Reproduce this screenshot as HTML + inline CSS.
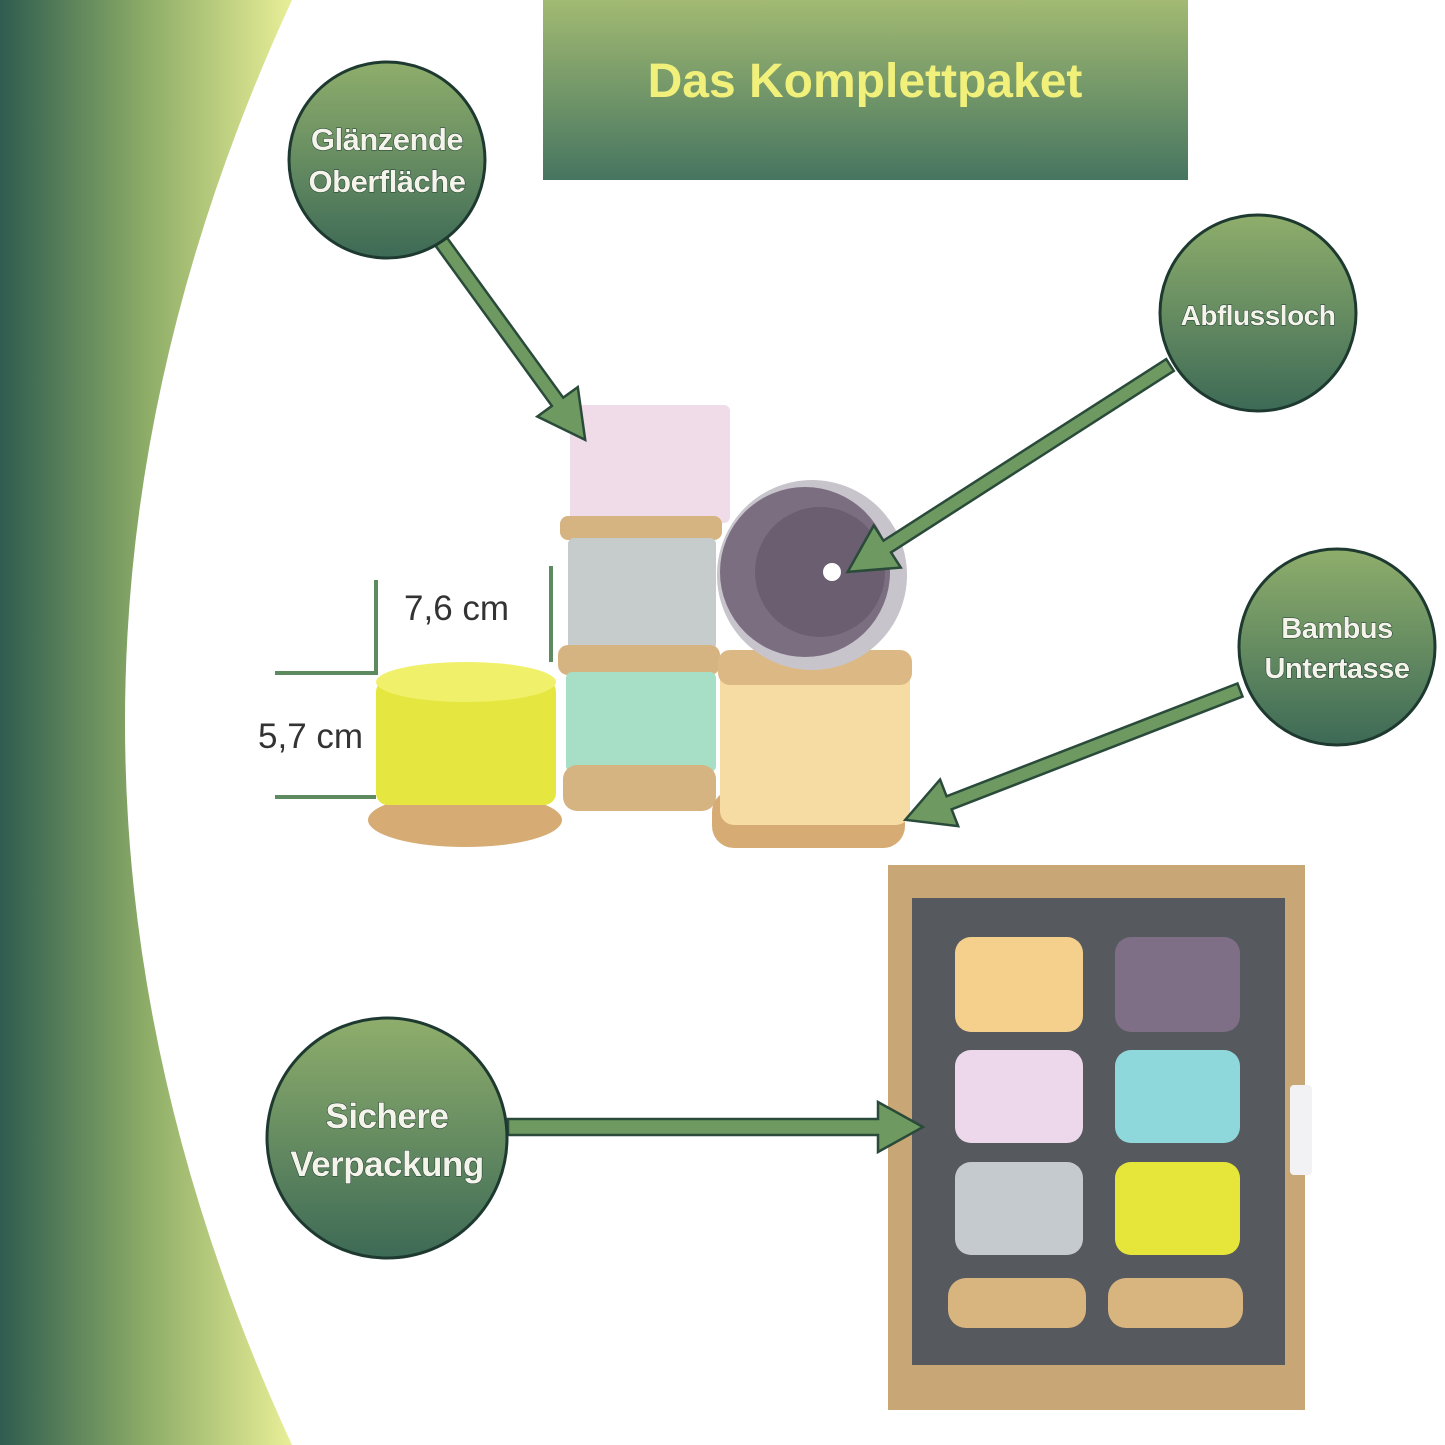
<!DOCTYPE html>
<html><head><meta charset="utf-8"><style>
html,body{margin:0;padding:0;background:#fff}
svg{display:block}
text{font-family:"Liberation Sans",sans-serif}
</style></head><body>
<svg width="1445" height="1445" viewBox="0 0 1445 1445" xmlns="http://www.w3.org/2000/svg">
<defs>
<linearGradient id="side" x1="0" y1="0" x2="1" y2="0">
<stop offset="0" stop-color="#2e5c4f"/><stop offset="0.5" stop-color="#8fae68"/><stop offset="1" stop-color="#eef29a"/>
</linearGradient>
<linearGradient id="ban" x1="0" y1="0" x2="0" y2="1">
<stop offset="0" stop-color="#a2ba72"/><stop offset="1" stop-color="#467560"/>
</linearGradient>
<linearGradient id="circ" x1="0" y1="0" x2="0" y2="1">
<stop offset="0" stop-color="#8fae6c"/><stop offset="1" stop-color="#3d6a56"/>
</linearGradient>
</defs>
<rect x="0" y="0" width="300" height="1445" fill="url(#side)"/>
<path d="M292,0 Q-42,722 292,1445 L1445,1445 L1445,0 Z" fill="#fff"/>

<rect x="543" y="0" width="645" height="180" fill="url(#ban)"/>
<text x="865" y="97" text-anchor="middle" font-size="48" font-weight="bold" fill="#f0f07a">Das Komplettpaket</text>

<g stroke="#5e8a60" stroke-width="4">
<line x1="376" y1="580" x2="376" y2="675"/><line x1="275" y1="673" x2="378" y2="673"/>
<line x1="275" y1="797" x2="376" y2="797"/><line x1="551" y1="566" x2="551" y2="662"/>
</g>
<text x="404" y="620" font-size="35" fill="#333">7,6 cm</text>
<text x="258" y="748" font-size="35" fill="#333">5,7 cm</text>

<ellipse cx="465" cy="820" rx="97" ry="27" fill="#d6ac74"/>
<rect x="376" y="680" width="180" height="125" rx="12" fill="#e6e640"/>
<ellipse cx="466" cy="682" rx="90" ry="20" fill="#f0f06a"/>
<rect x="570" y="405" width="160" height="118" rx="6" fill="#f0dce8"/>
<rect x="560" y="516" width="162" height="24" rx="8" fill="#d6b482"/>
<rect x="568" y="538" width="148" height="112" rx="6" fill="#c6cccc"/>
<rect x="558" y="645" width="162" height="30" rx="10" fill="#d6b482"/>
<rect x="566" y="672" width="150" height="100" rx="6" fill="#a6dec6"/>
<rect x="563" y="765" width="153" height="46" rx="14" fill="#d6b482"/>
<rect x="712" y="790" width="193" height="58" rx="22" fill="#d6ac74"/>
<rect x="720" y="655" width="190" height="170" rx="14" fill="#f6dba2"/>
<rect x="718" y="650" width="194" height="35" rx="12" fill="#dcb884"/>
<circle cx="812" cy="575" r="95" fill="#c8c4cc"/>
<circle cx="805" cy="572" r="85" fill="#7a6e80"/>
<circle cx="820" cy="572" r="65" fill="#6a5e70"/>
<circle cx="832" cy="572" r="9" fill="#fff"/>

<rect x="888" y="865" width="417" height="545" fill="#c8a676"/>
<rect x="912" y="898" width="373" height="467" fill="#56595d"/>
<g>
<rect x="955" y="937" width="128" height="95" rx="16" fill="#f4d08c"/>
<rect x="1115" y="937" width="125" height="95" rx="16" fill="#7e6e86"/>
<rect x="955" y="1050" width="128" height="93" rx="16" fill="#ecd8ea"/>
<rect x="1115" y="1050" width="125" height="93" rx="16" fill="#8ed8dc"/>
<rect x="955" y="1162" width="128" height="93" rx="16" fill="#c4cace"/>
<rect x="1115" y="1162" width="125" height="93" rx="16" fill="#e6e63a"/>
<rect x="948" y="1278" width="138" height="50" rx="18" fill="#d8b47e"/>
<rect x="1108" y="1278" width="135" height="50" rx="18" fill="#d8b47e"/>
</g>
<rect x="1290" y="1085" width="22" height="90" rx="4" fill="#f2f2f4"/>

<g fill="#6e9a62" stroke="#2a4a3a" stroke-width="2.5" stroke-linejoin="miter">
<path transform="translate(440,240) rotate(54)" d="M0,-7 L200,-7 L200,-25 L247,0 L200,25 L200,7 L0,7 Z"/>
<path transform="translate(1170,365) rotate(147.3)" d="M0,-7 L336,-7 L336,-25 L383,0 L336,25 L336,7 L0,7 Z"/>
<path transform="translate(1240,690) rotate(158.8)" d="M0,-7 L312,-7 L312,-25 L359,0 L312,25 L312,7 L0,7 Z"/>
<path transform="translate(508,1127)" d="M0,-8 L370,-8 L370,-25 L415,0 L370,25 L370,8 L0,8 Z"/>
</g>

<g stroke="#1e3a30" stroke-width="3" fill="url(#circ)">
<circle cx="387" cy="160" r="98"/>
<circle cx="1258" cy="313" r="98"/>
<circle cx="1337" cy="647" r="98"/>
<circle cx="387" cy="1138" r="120"/>
</g>
<g font-weight="bold" fill="#f4f4ea" text-anchor="middle" stroke="#1e3a30" stroke-width="1" paint-order="stroke" letter-spacing="-0.5">
<text x="387" y="150" font-size="31">Glänzende</text>
<text x="387" y="192" font-size="31">Oberfläche</text>
<text x="1258" y="325" font-size="28">Abflussloch</text>
<text x="1337" y="638" font-size="29">Bambus</text>
<text x="1337" y="678" font-size="29">Untertasse</text>
<text x="387" y="1128" font-size="35">Sichere</text>
<text x="387" y="1176" font-size="35">Verpackung</text>
</g>
</svg>
</body></html>
